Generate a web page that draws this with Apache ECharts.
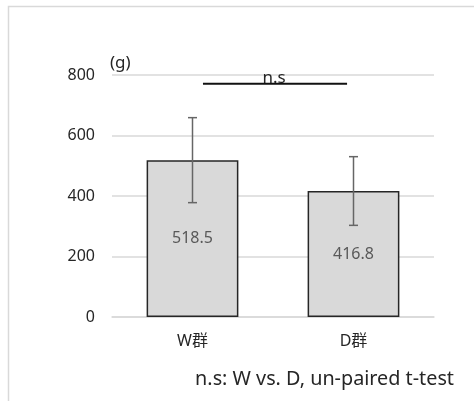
<!DOCTYPE html>
<html>
<head>
<meta charset="utf-8">
<script src="https://cdn.jsdelivr.net/npm/echarts@6/dist/echarts.min.js"></script>
<style>
html,body{margin:0;padding:0;background:#fff;}
#chart{width:474px;height:401px;}
</style>
</head>
<body>
<div id="chart"></div>
<script>
// ---- data ----
const categories = ['W群', 'D群'];
const means = [518.5, 416.8];
const errLow = [378, 303];
const errHigh = [659, 530];
const sigLevel = [771];
const sigLabel = ['n.s'];
const yTicks = [0, 800, 200];   // min, max, interval
const unitLabel = '(g)';
const footnote = 'n.s: W vs. D, un-paired t-test';

const FONT = '"Noto Sans", "Noto Sans CJK JP", sans-serif';

const chart = echarts.init(document.getElementById('chart'), null, {renderer: 'canvas'});

const errData = categories.map((c, i) => [i, errLow[i], errHigh[i]]);

const option = {
  backgroundColor: '#fff',
  animation: false,
  textStyle: {fontFamily: FONT},
  grid: {left: 112, right: 40, top: 75, bottom: 84, containLabel: false},
  title: [
    {text: unitLabel, left: 105, top: 50,
     textStyle: {fontFamily: FONT, fontSize: 17, fontWeight: 'normal', color: '#262626'}},
    {text: footnote, right: 15, top: 364,
     textStyle: {fontFamily: FONT, fontSize: 19.8, fontWeight: 'normal', color: '#262626'}}
  ],
  graphic: [{
    type: 'rect', silent: true,
    shape: {x: 8.5, y: 6.5, width: 600, height: 600},
    style: {fill: 'none', stroke: '#d9d9d9', lineWidth: 1.5}
  }],
  xAxis: {
    type: 'category',
    data: categories,
    axisLine: {show: true, lineStyle: {color: '#d9d9d9', width: 1.5}},
    axisTick: {show: false},
    axisLabel: {fontFamily: FONT, fontSize: 16, color: '#262626', margin: 16}
  },
  yAxis: {
    type: 'value',
    min: yTicks[0], max: yTicks[1], interval: yTicks[2],
    axisLine: {show: false},
    axisTick: {show: false},
    axisLabel: {fontFamily: FONT, fontSize: 16, color: '#262626', margin: 17},
    splitLine: {lineStyle: {color: '#d9d9d9', width: 1.5}}
  },
  series: [
    {
      type: 'bar',
      data: means,
      barWidth: '57%',
      itemStyle: {color: '#d9d9d9', borderColor: '#262626', borderWidth: 1.5},
      label: {show: true, position: 'inside', fontFamily: FONT, fontSize: 16, color: '#595959',
              formatter: p => p.value.toFixed(1)},
      z: 2
    },
    {
      type: 'custom',
      data: errData,
      z: 5,
      renderItem: function (params, api) {
        const x = api.value(0);
        const lo = api.coord([x, api.value(1)]);
        const hi = api.coord([x, api.value(2)]);
        const hw = 4.5;
        const st = {stroke: '#666666', lineWidth: 1.5};
        return {
          type: 'group',
          children: [
            {type: 'line', shape: {x1: lo[0], y1: lo[1], x2: hi[0], y2: hi[1]}, style: st},
            {type: 'line', shape: {x1: lo[0] - hw, y1: lo[1], x2: lo[0] + hw, y2: lo[1]}, style: st},
            {type: 'line', shape: {x1: hi[0] - hw, y1: hi[1], x2: hi[0] + hw, y2: hi[1]}, style: st}
          ]
        };
      }
    },
    {
      type: 'custom',
      data: [[0, 1, sigLevel[0]]],
      z: 6,
      renderItem: function (params, api) {
        const a = api.coord([api.value(0), api.value(2)]);
        const b = api.coord([api.value(1), api.value(2)]);
        const bw = api.size([1, 0])[0];
        const x1 = a[0] + 0.065 * bw;
        const x2 = b[0] - 0.04 * bw;
        return {
          type: 'group',
          children: [
            {type: 'text', style: {text: sigLabel[0], x: (a[0] + b[0]) / 2 + 1, y: a[1] + 3,
              align: 'center', verticalAlign: 'bottom', fill: '#262626',
              font: '17px ' + FONT}},
            {type: 'line', shape: {x1: x1, y1: a[1], x2: x2, y2: a[1]},
              style: {stroke: '#111111', lineWidth: 2}}
          ]
        };
      }
    }
  ]
};
chart.setOption(option);
</script>
</body>
</html>
